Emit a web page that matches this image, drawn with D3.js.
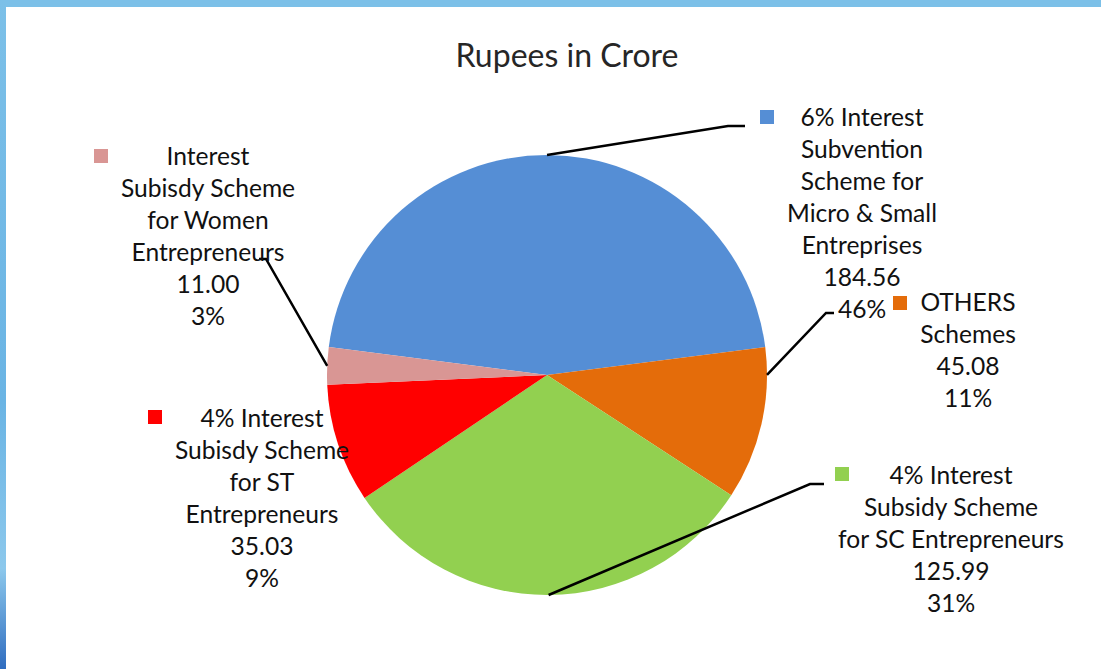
<!DOCTYPE html>
<html>
<head>
<meta charset="utf-8">
<script src="https://cdn.jsdelivr.net/npm/d3@7"></script>
<style>
  body { margin: 0; background: #fff; }
  text { font-family: Lato, "Open Sans", sans-serif; }
</style>
</head>
<body>
<div id="chart"></div>
<script>
const AREA_WIDTH = 1101;
const AREA_HEIGHT = 669;

// data
const schemes = [
  ['6% Interest', 'Subvention', 'Scheme for', 'Micro & Small', 'Entreprises'],
  ['OTHERS', 'Schemes'],
  ['4% Interest', 'Subsidy Scheme', 'for SC Entrepreneurs'],
  ['4% Interest', 'Subisdy Scheme', 'for ST', 'Entrepreneurs'],
  ['Interest', 'Subisdy Scheme', 'for Women', 'Entrepreneurs']
];
const amounts = [184.56, 45.08, 125.99, 35.03, 11.00];
const percents = ['46%', '11%', '31%', '9%', '3%'];
const colors = ['#558ed5', '#e46c0a', '#92d050', '#ff0000', '#d99694'];

// layout of each label (label centre, first baseline, legend key, leader elbow)
const LABELS = [
  { cx: 862, y: 126, key: [760, 110], elbow: [728, 126], end: 745, anchorAt: 0.5 },
  { cx: 968, y: 311, key: [893, 296], elbow: [826, 313], end: 834, anchorAt: 0.18 },
  { cx: 951, y: 484, key: [835, 467], elbow: [810, 484], end: 824, anchorAt: 0.5 },
  { cx: 262, y: 427, key: [148, 410], elbow: null },
  { cx: 208, y: 165, key: [94, 149], elbow: [266, 259], end: 259, anchorAt: 0.5 }
];
const LINE_HEIGHT = 32;
const CENTER = { X: 547, Y: 375 };
const RADIUS = 220;
const START = -82.7 * Math.PI / 180;

const svg = d3.select('#chart')
              .append('svg')
              .attr('width', AREA_WIDTH)
              .attr('height', AREA_HEIGHT);

// slide frame
const grad = svg.append('defs')
                .append('linearGradient')
                .attr('id', 'edge')
                .attr('x1', 0).attr('y1', 0)
                .attr('x2', 0).attr('y2', 1);
grad.append('stop').attr('offset', '0%').attr('stop-color', '#7cc0e8');
grad.append('stop').attr('offset', '60%').attr('stop-color', '#6ab4e4');
grad.append('stop').attr('offset', '85%').attr('stop-color', '#8cc8ec');
grad.append('stop').attr('offset', '100%').attr('stop-color', '#2f6cbf');

svg.append('rect')
     .attr('width', AREA_WIDTH)
     .attr('height', 7)
     .attr('fill', '#7cc0e8');
svg.append('rect')
     .attr('width', 6)
     .attr('height', AREA_HEIGHT)
     .attr('fill', 'url(#edge)');

svg.append('text')
     .attr('x', 567)
     .attr('y', 67)
     .attr('text-anchor', 'middle')
     .attr('font-size', 32)
     .attr('fill', '#262626')
     .text('Rupees in Crore');

const pie = d3.pie()
              .sort(null)
              .startAngle(START)
              .endAngle(START + 2 * Math.PI)
              .value(d => d);
const arcs = pie(amounts);

const arc = d3.arc()
              .innerRadius(0)
              .outerRadius(RADIUS);

const g = svg.append('g')
             .attr('transform', `translate(${CENTER.X},${CENTER.Y})`);

g.selectAll('path')
   .data(arcs)
   .enter()
   .append('path')
   .attr('d', arc)
   .attr('fill', (d, i) => colors[i]);

// leader lines
arcs.forEach((a, i) => {
  const lab = LABELS[i];
  if (!lab.elbow) return;
  const ang = a.startAngle + (a.endAngle - a.startAngle) * lab.anchorAt;
  const sx = CENTER.X + RADIUS * Math.sin(ang);
  const sy = CENTER.Y - RADIUS * Math.cos(ang);
  svg.append('polyline')
       .attr('points', `${sx},${sy} ${lab.elbow[0]},${lab.elbow[1]} ${lab.end},${lab.elbow[1]}`)
       .attr('fill', 'none')
       .attr('stroke', '#000')
       .attr('stroke-width', 2.5);
});

// labels
arcs.forEach((a, i) => {
  const lab = LABELS[i];
  svg.append('rect')
       .attr('x', lab.key[0])
       .attr('y', lab.key[1])
       .attr('width', 14)
       .attr('height', 14)
       .attr('fill', colors[i]);
  const lines = schemes[i].concat([amounts[i].toFixed(2), percents[i]]);
  const t = svg.append('text')
               .attr('text-anchor', 'middle')
               .attr('font-size', 24.6)
               .attr('fill', '#111');
  lines.forEach((s, k) => {
    t.append('tspan')
       .attr('x', lab.cx)
       .attr('y', lab.y + k * LINE_HEIGHT)
       .text(s);
  });
});
</script>
</body>
</html>
